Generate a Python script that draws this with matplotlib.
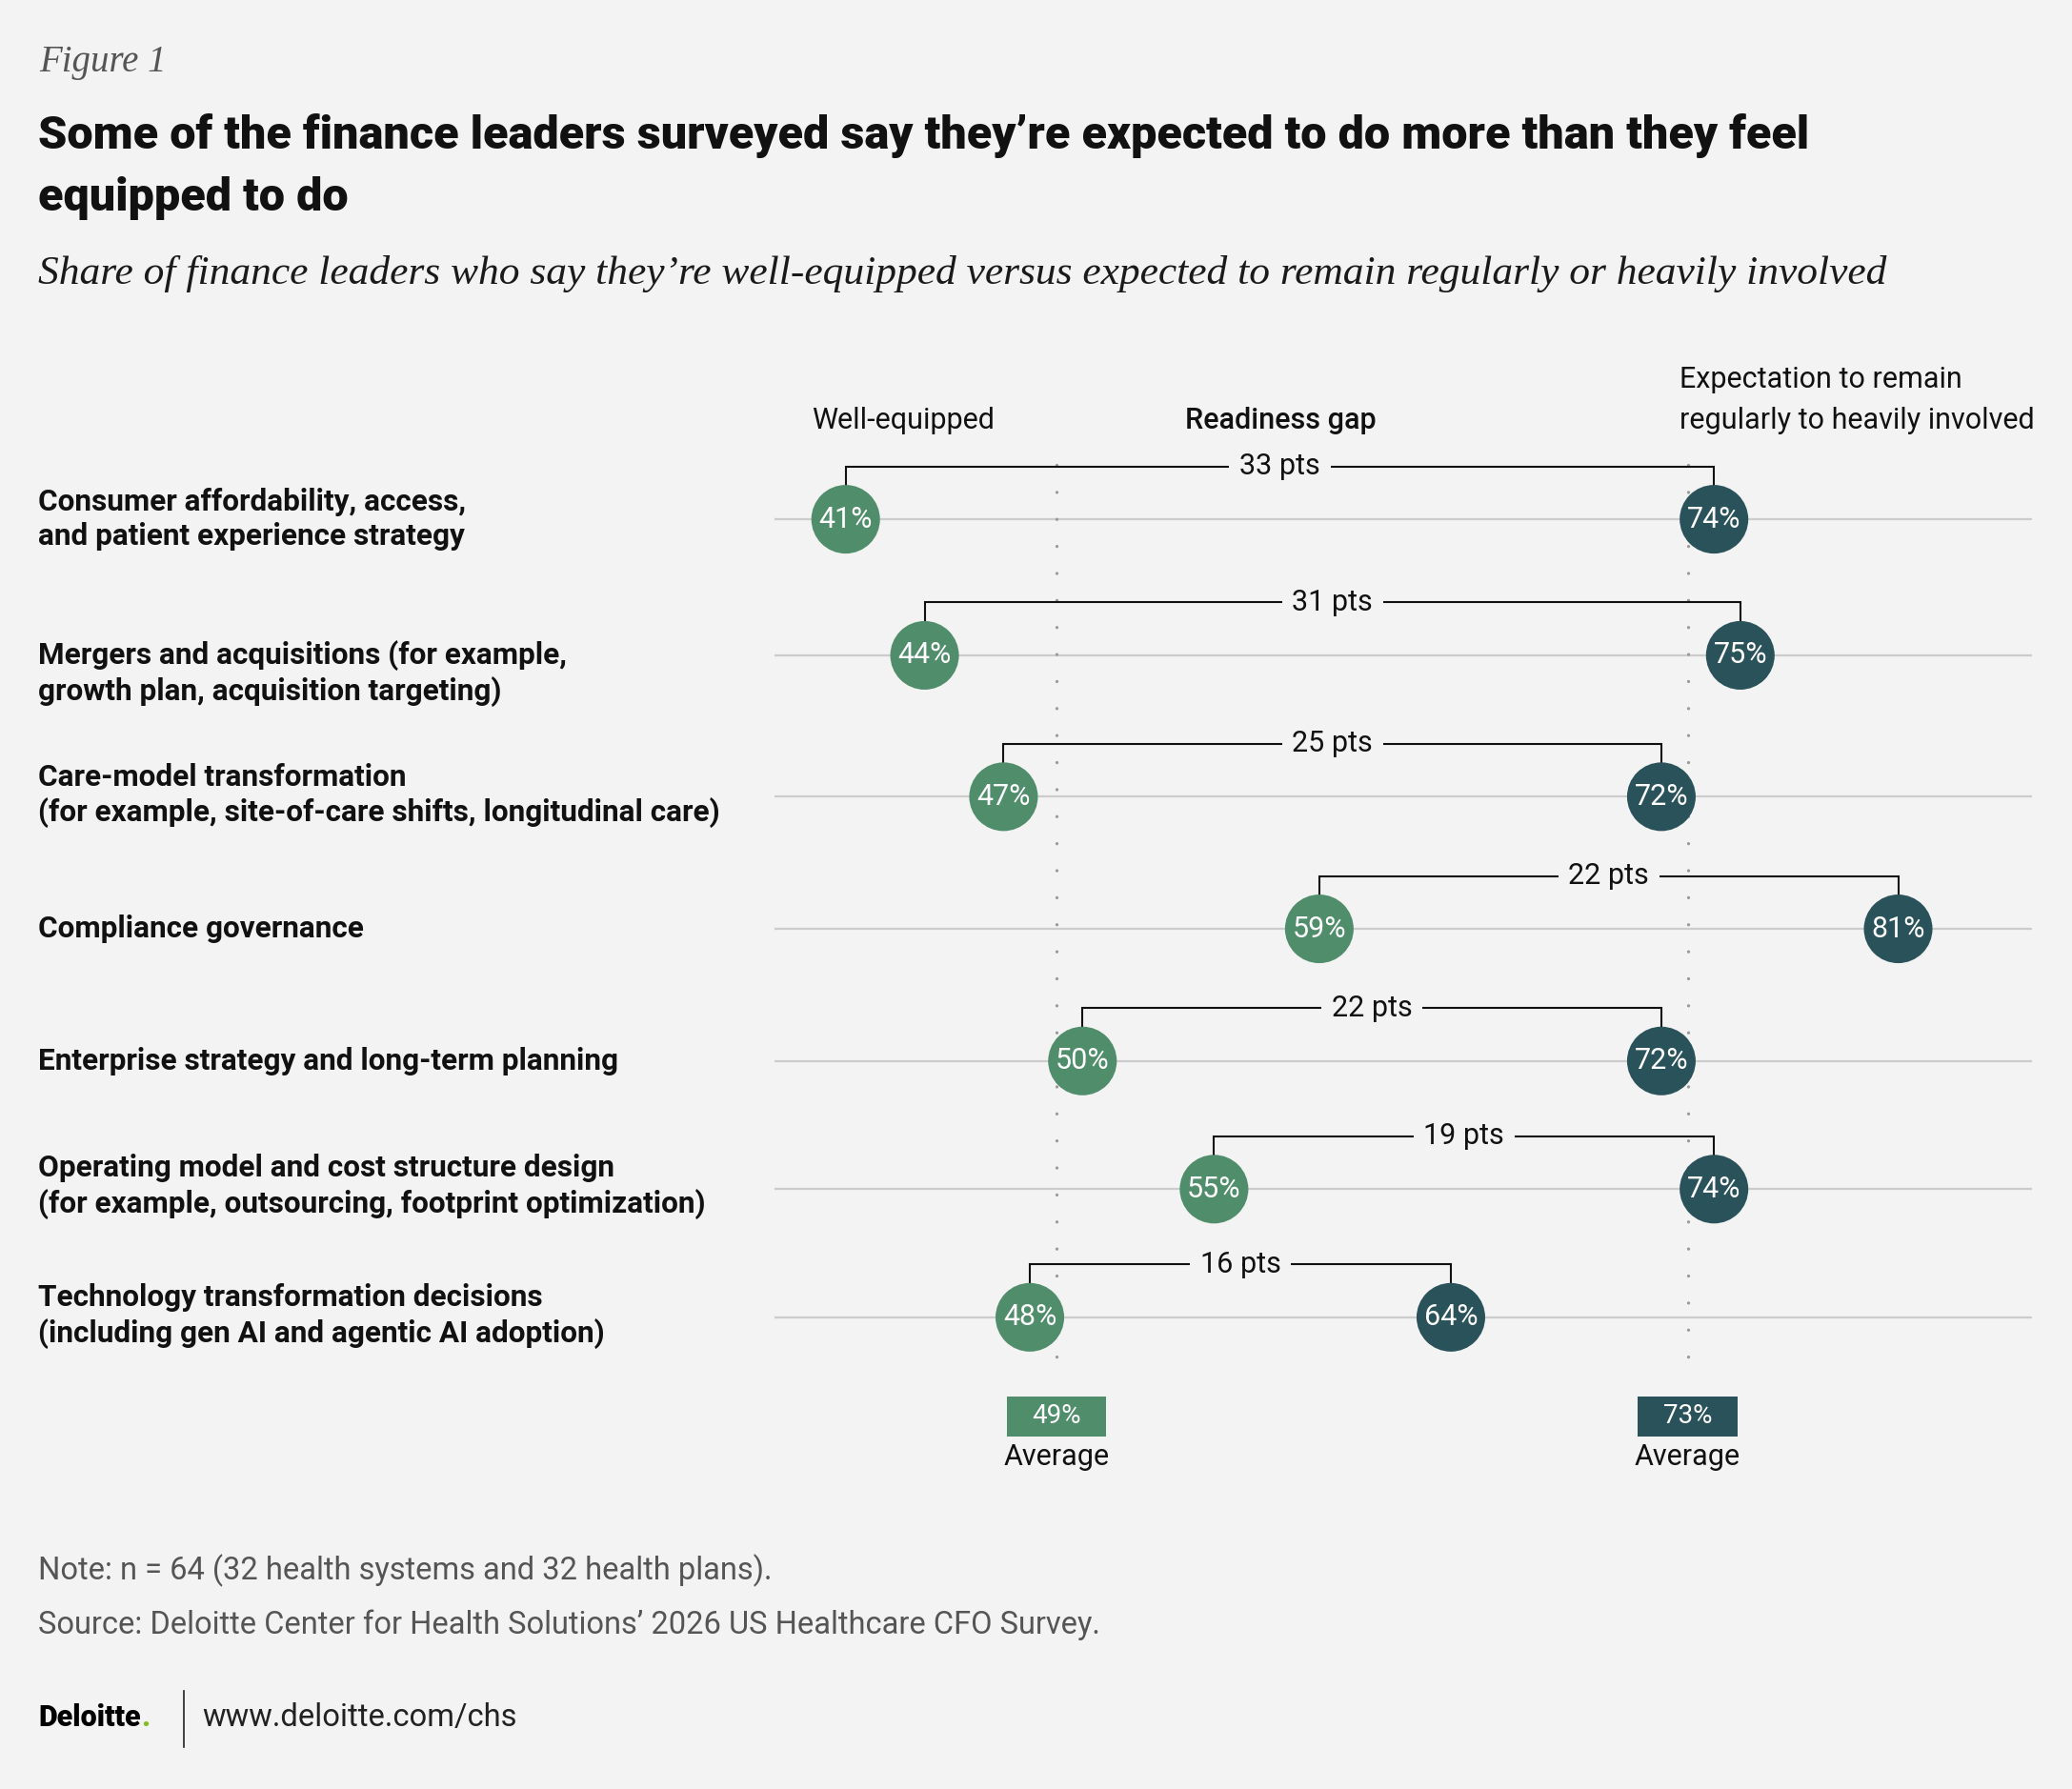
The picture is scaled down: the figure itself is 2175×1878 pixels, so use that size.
import matplotlib
matplotlib.use('Agg')
import matplotlib.pyplot as plt
from matplotlib.patches import Rectangle
from matplotlib.lines import Line2D

# Data
categories = [
    'Consumer affordability, access,\nand patient experience strategy',
    'Mergers and acquisitions (for example,\ngrowth plan, acquisition targeting)',
    'Care-model transformation\n(for example, site-of-care shifts, longitudinal care)',
    'Compliance governance',
    'Enterprise strategy and long-term planning',
    'Operating model and cost structure design\n(for example, outsourcing, footprint optimization)',
    'Technology transformation decisions\n(including gen AI and agentic AI adoption)',
]
well_equipped = [41, 44, 47, 59, 50, 55, 48]
expectation = [74, 75, 72, 81, 72, 74, 64]
avg_equipped = 49
avg_expectation = 73

BG = '#f3f3f3'
GREEN = '#4f8d6b'
TEAL = '#2a525a'
NARROW = ['Liberation Sans Narrow', 'Roboto', 'DejaVu Sans']
SERIF = ['Liberation Serif', 'DejaVu Serif']

# layout grid: reference measured at 1568 x 1354
W, H = 1568, 1354
row_y = [393, 496, 603, 703, 803, 900, 997]
label_y = [393, 510, 602, 703, 803, 898, 996]


def fx(x):
    return x / W


def fy(y):
    return 1 - y / H


fig = plt.figure(figsize=(21.75, 18.78), dpi=100, facecolor=BG)

# dumbbell axes, y in layout pixels (inverted)
ax = fig.add_axes([fx(586), fy(1125), fx(1538) - fx(586), fy(255) - fy(1125)])
ax.set_facecolor(BG)
ax.set_xlim(38.29, 86.10)
ax.set_ylim(1125, 255)
ax.axis('off')

for y in row_y:
    ax.axhline(y, color='#cccccc', lw=1.6, zorder=1)

# average guides
for v in (avg_equipped, avg_expectation):
    ax.plot([v, v], [352, 1045], color='#9a9a9a', lw=2.4,
            linestyle=(0, (0.01, 8.5)), dash_capstyle='round', zorder=1)

for i, (a, b) in enumerate(zip(well_equipped, expectation)):
    y = row_y[i]
    top = y - 40
    ax.plot([a, a, b, b], [y - 26, top, top, y - 26], color='#111111',
            lw=1.5, zorder=2, solid_joinstyle='miter')
    ax.text((a + b) / 2, top, f'{b - a} pts', ha='center', va='center',
            fontsize=22, family=NARROW, color='#111111', zorder=4,
            bbox=dict(boxstyle='square,pad=0.35', fc=BG, ec='none'))

ax.scatter(well_equipped, row_y, s=2690, color=GREEN, edgecolor='none', zorder=3)
ax.scatter(expectation, row_y, s=2690, color=TEAL, edgecolor='none', zorder=3)
for i in range(len(categories)):
    ax.text(well_equipped[i], row_y[i], f'{well_equipped[i]}%', ha='center',
            va='center', color='white', fontsize=22, family=NARROW, zorder=4)
    ax.text(expectation[i], row_y[i], f'{expectation[i]}%', ha='center',
            va='center', color='white', fontsize=22, family=NARROW, zorder=4)

# average boxes
for v, c in ((avg_equipped, GREEN), (avg_expectation, TEAL)):
    ax.add_patch(Rectangle((v - 1.885, 1057), 3.77, 30, fc=c, ec='none', zorder=3))
    ax.text(v, 1072, f'{v}%', ha='center', va='center', color='white',
            fontsize=20, family=NARROW, zorder=4)
    ax.text(v, 1103, 'Average', ha='center', va='center', color='#111111',
            fontsize=22, family=NARROW)

# column headers
fig.text(fx(614), fy(318), 'Well-equipped', ha='left', va='center',
         fontsize=22, family=NARROW, color='#111111')
fig.text(fx(969), fy(318), 'Readiness gap', ha='center', va='center',
         fontsize=22, family=NARROW, color='#111111', weight='medium')
fig.text(fx(1271), fy(287), 'Expectation to remain', ha='left', va='center',
         fontsize=22, family=NARROW, color='#111111')
fig.text(fx(1271), fy(318), 'regularly to heavily involved', ha='left',
         va='center', fontsize=22, family=NARROW, color='#111111')

# row labels
for i, lab in enumerate(categories):
    fig.text(fx(29), fy(label_y[i]), lab, ha='left', va='center', fontsize=22.7,
             family=NARROW, weight='bold', color='#111111', linespacing=1.25)

# titles
fig.text(fx(30), fy(47), 'Figure 1', ha='left', va='center', fontsize=28,
         family=SERIF, style='italic', color='#555555')
fig.text(fx(29), fy(103),
         'Some of the finance leaders surveyed say they\u2019re expected to do more than they feel',
         ha='left', va='center', fontsize=35, family=NARROW, weight='black',
         color='#111111')
fig.text(fx(29), fy(150), 'equipped to do', ha='left', va='center',
         fontsize=35, family=NARROW, weight='black', color='#111111')
fig.text(fx(29), fy(207),
         'Share of finance leaders who say they\u2019re well-equipped versus expected to remain regularly or heavily involved',
         ha='left', va='center', fontsize=31.3, family=SERIF, style='italic',
         color='#1a1a1a')

# footer
fig.text(fx(29), fy(1189), 'Note: n = 64 (32 health systems and 32 health plans).',
         ha='left', va='center', fontsize=23.5, family=NARROW, color='#555555')
fig.text(fx(29), fy(1230),
         'Source: Deloitte Center for Health Solutions\u2019 2026 US Healthcare CFO Survey.',
         ha='left', va='center', fontsize=23.5, family=NARROW, color='#555555')
logo = fig.text(fx(29), fy(1300), 'Deloitte', ha='left', va='center', fontsize=22,
                family=NARROW, weight='black', color='#000000')
fig.canvas.draw()
bb = logo.get_window_extent()
fig.text(bb.x1 / fig.bbox.width, fy(1300), '.', ha='left', va='center',
         fontsize=22, family=NARROW, weight='black', color='#86bc25')
fig.add_artist(Line2D([fx(139), fx(139)], [fy(1280), fy(1322)],
                      transform=fig.transFigure, color='#222222', lw=1.2))
fig.text(fx(153), fy(1300), 'www.deloitte.com/chs', ha='left', va='center',
         fontsize=23.6, family=NARROW, color='#222222')

fig.savefig('out.png', dpi=100, facecolor=BG)
